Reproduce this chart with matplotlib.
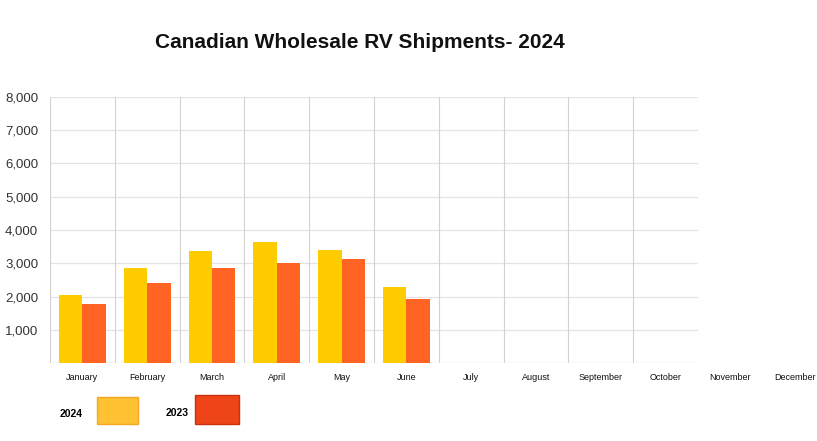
import matplotlib
matplotlib.use("Agg")
import matplotlib.pyplot as plt
from matplotlib.patches import Rectangle
import numpy as np

months = ["January", "February", "March", "April", "May", "June",
          "July", "August", "September", "October", "November", "December"]
shipments_2024 = [2050, 2860, 3370, 3650, 3400, 2300]
shipments_2023 = [1770, 2410, 2860, 3000, 3130, 1930]
y_ticks = [1000, 2000, 3000, 4000, 5000, 6000, 7000, 8000]
y_tick_labels = ["1,000", "2,000", "3,000", "4,000", "5,000", "6,000", "7,000", "8,000"]

c24 = "#FFCC00"
c23 = "#FF6424"
sans = ["Liberation Sans", "DejaVu Sans"]

fig = plt.figure(figsize=(8.17, 4.41), dpi=100)
ax = fig.add_axes([50 / 817, 77.7 / 441, 648 / 817, 266.6 / 441])

n_slots = 10
x = np.arange(len(shipments_2024)) + 0.5
w = 0.36
ax.bar(x - w / 2, shipments_2024, w, color=c24, zorder=3)
ax.bar(x + w / 2, shipments_2023, w, color=c23, zorder=3)

ax.set_xlim(0, n_slots)
ax.set_ylim(0, 8000)
ax.set_yticks(y_ticks)
ax.set_yticklabels(y_tick_labels, fontfamily=sans, fontsize=9.5, color="#333333")
ax.tick_params(axis="y", length=0, pad=8.5)
ax.set_xticks([])
for s in ax.spines.values():
    s.set_visible(False)

for yv in y_ticks:
    ax.axhline(yv, color="#e4e4e4", lw=0.9, zorder=1)
ax.axhline(0, color="#d0d0d0", lw=0.9, zorder=1)
for xv in range(n_slots):
    ax.axvline(xv, color="#d2d2d2", lw=0.8, zorder=1)

tr = ax.get_xaxis_transform()
for i, m in enumerate(months):
    ax.text(i + 0.5, -0.055, m, transform=tr, ha="center", va="center",
            fontfamily=sans, fontsize=6.5, color="#111111", clip_on=False)

fig.text(360 / 817, 1 - 43 / 441, "Canadian Wholesale RV Shipments- 2024",
         ha="center", va="center", fontfamily=sans, fontweight="bold",
         fontsize=15, color="#111111")

# legend
fig.text(71 / 817, 1 - 414 / 441, "2024", ha="center", va="center",
         fontfamily=sans, fontweight="bold", fontsize=7.5)
fig.add_artist(Rectangle((97 / 817, 1 - 424 / 441), 41 / 817, 27 / 441,
                         transform=fig.transFigure, facecolor="#FFC233",
                         edgecolor="#F5A623", lw=1))
fig.text(177 / 817, 1 - 413 / 441, "2023", ha="center", va="center",
         fontfamily=sans, fontweight="bold", fontsize=7.5)
fig.add_artist(Rectangle((195 / 817, 1 - 424 / 441), 44 / 817, 29 / 441,
                         transform=fig.transFigure, facecolor="#EE4418",
                         edgecolor="#C83010", lw=1))

fig.savefig("out.png", dpi=100)
